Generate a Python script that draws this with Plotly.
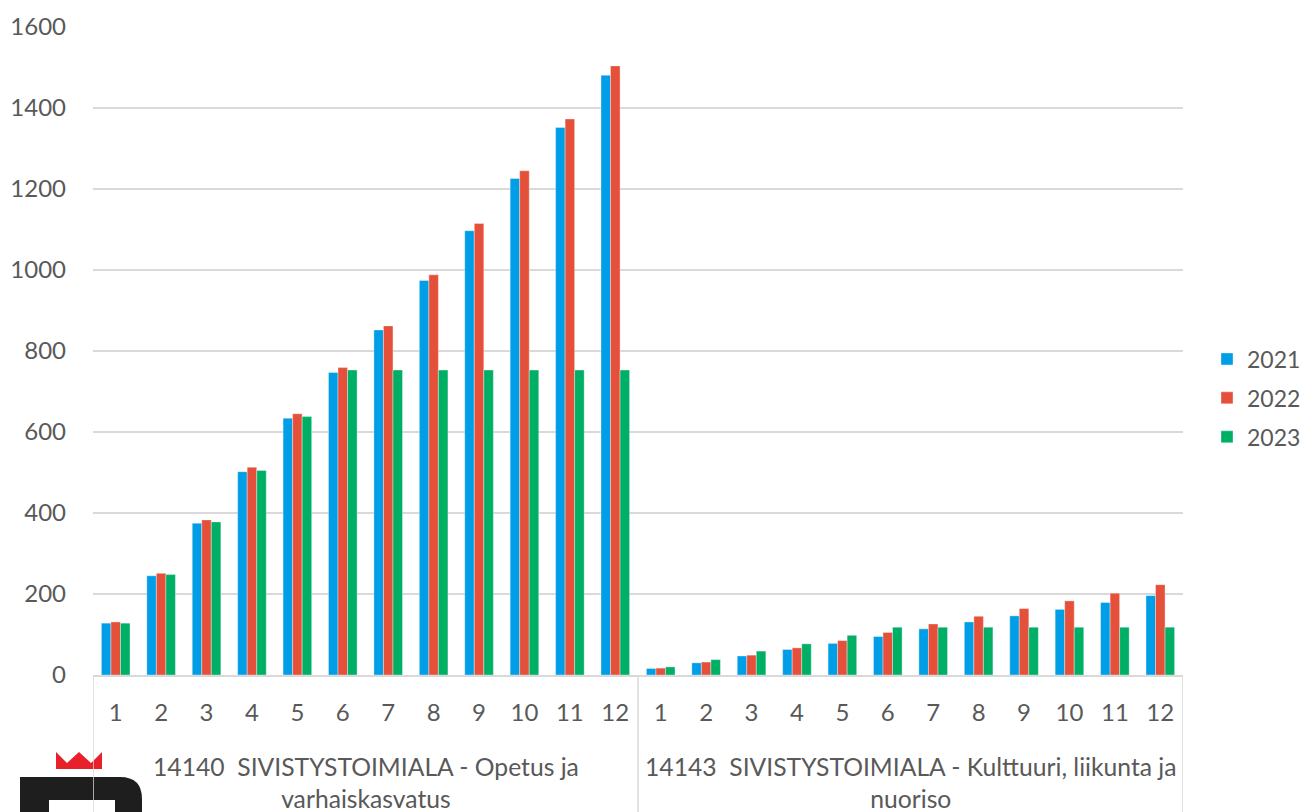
import plotly.graph_objects as go

group_labels = ["14140  SIVISTYSTOIMIALA - Opetus ja<br>varhaiskasvatus",
                "14143  SIVISTYSTOIMIALA - Kulttuuri, liikunta ja<br>nuoriso"]
months = [str(m) for m in range(1, 13)]

v2021_a = [128, 245, 375, 502, 634, 747, 852, 974, 1097, 1226, 1352, 1481]
v2022_a = [131, 251, 383, 513, 645, 759, 862, 988, 1115, 1245, 1373, 1504]
v2023_a = [128, 248, 378, 505, 638, 753, 753, 753, 753, 753, 753, 753]

v2021_b = [16, 30, 47, 63, 78, 95, 114, 131, 146, 162, 179, 196]
v2022_b = [17, 32, 49, 67, 85, 105, 126, 145, 164, 183, 202, 223]
v2023_b = [20, 38, 59, 77, 98, 118, 118, 118, 118, 118, 118, 118]

series_names = ["2021", "2022", "2023"]
colors = ["#009EE6", "#E5503A", "#00AF66"]

cats = [f"A{m}" for m in months] + [f"B{m}" for m in months]
ticktext = months + months
vals = [v2021_a + v2021_b, v2022_a + v2022_b, v2023_a + v2023_b]

# page has an 8px body margin; figure is sized so the plot lands where intended
OFF = 8
W, H = 1314 - OFF, 812 - OFF
L, R, T, B = 93, 1183, 27, 675  # page pixel coords of the plot area


def px(x):
    return (x - L) / (R - L)


def py(y):
    return (B - y) / (B - T)


fig = go.Figure()
for name, col, v in zip(series_names, colors, vals):
    fig.add_trace(go.Bar(x=cats, y=v, name=name, marker_color=col,
                         marker_line=dict(color="rgba(255,255,255,0.6)", width=0.6),
                         legendgroup=name))

font_fam = "Lato, Open Sans, sans-serif"
txt = "#595959"
grid = "#D9D9D9"
fig.update_layout(
    width=W, height=H,
    paper_bgcolor="white", plot_bgcolor="white",
    margin=dict(l=L - OFF, r=(W + OFF) - R, t=T - OFF, b=(H + OFF) - B, autoexpand=False),
    barmode="group", bargap=0.37, bargroupgap=0,
    font=dict(family=font_fam, size=24, color=txt),
    legend=dict(x=px(1207), y=py(398), xanchor="left", yanchor="middle",
                font=dict(size=23, color=txt), tracegroupgap=6,
                itemwidth=30, bgcolor="rgba(0,0,0,0)"),
    showlegend=True,
)
fig.update_yaxes(range=[0, 1600], dtick=200, showgrid=True, gridcolor=grid,
                 gridwidth=1.5, zeroline=False, showline=False, automargin=False,
                 tickfont=dict(size=24, color=txt), ticks="", ticklabelstandoff=26)
fig.update_xaxes(type="category", tickvals=cats, ticktext=ticktext,
                 showline=True, linecolor=grid, linewidth=1.5, automargin=False,
                 tickfont=dict(size=24, color=txt), ticks="", ticklabelstandoff=15,
                 range=[-0.5, 23.5])

# group labels
for i, g in enumerate(group_labels):
    fig.add_annotation(x=5.5 + 12 * i, xref="x", y=py(750), yref="paper",
                       text=g, showarrow=False, yanchor="top", xanchor="center",
                       font=dict(size=24.7, color=txt), align="center")

# category box dividers
for xv in [-0.5, 11.5, 23.5]:
    fig.add_shape(type="line", xref="x", yref="paper", x0=xv, x1=xv,
                  y0=0, y1=py(830), line=dict(color=grid, width=1.5))

# logo (approximation)
crown = [(56, 752), (67, 763), (79, 752), (91, 763), (102, 752), (102, 769), (56, 769)]
path = "M " + " L ".join(f"{px(a):.5f} {py(b):.5f}" for a, b in crown) + " Z"
fig.add_shape(type="path", xref="paper", yref="paper", path=path,
              fillcolor="#E8202A", line_width=0, layer="below")
body = (f"M {px(20):.5f} {py(830):.5f} L {px(20):.5f} {py(777):.5f} "
        f"L {px(120):.5f} {py(777):.5f} Q {px(142):.5f} {py(777):.5f} {px(142):.5f} {py(799):.5f} "
        f"L {px(142):.5f} {py(830):.5f} L {px(115):.5f} {py(830):.5f} "
        f"L {px(115):.5f} {py(800):.5f} L {px(49):.5f} {py(800):.5f} "
        f"L {px(49):.5f} {py(830):.5f} Z")
fig.add_shape(type="path", xref="paper", yref="paper", path=body,
              fillcolor="#1E1E1E", line_width=0, layer="below")

fig.write_html("out.html")
